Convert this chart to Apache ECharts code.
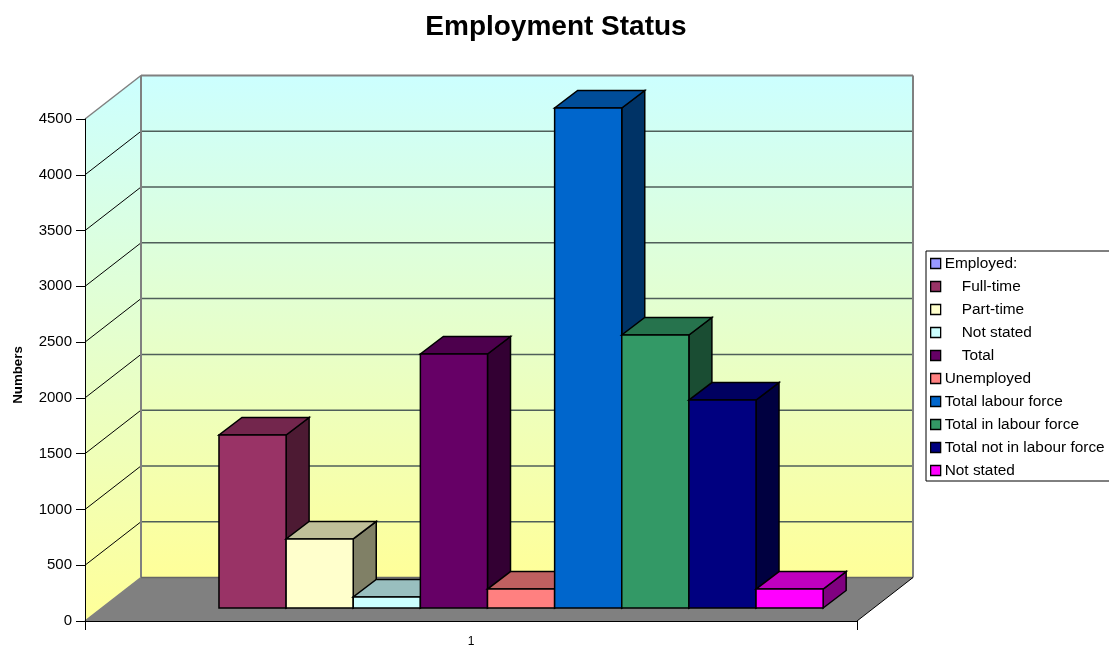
<!DOCTYPE html>
<html>
<head>
<meta charset="utf-8">
<style>html,body{margin:0;padding:0;background:#fff}#c{width:1109px;height:646px}</style>
<script src="https://cdn.jsdelivr.net/npm/echarts@6/dist/echarts.min.js"></script>
</head>
<body>
<div id="c"></div>
<script>
var categories = ['1'];
var seriesNames = ['Employed:', '    Full-time', '    Part-time', '    Not stated', '    Total', 'Unemployed', 'Total labour force', 'Total in labour force', 'Total not in labour force', 'Not stated'];
var seriesValues = [null, 1551, 619, 99, 2277, 170, 4482, 2447, 1864, 170];
var seriesColors = ['#9999ff', '#993366', '#ffffcc', '#ccffff', '#660066', '#ff8080', '#0066cc', '#339966', '#000080', '#ff00ff'];
var valueTicks = [0, 500, 1000, 1500, 2000, 2500, 3000, 3500, 4000, 4500];

var WALL_DX = 56, WALL_DY = 43.5;
var BAR_DX = 23, BAR_DY = 17.5;
var GAP_DX = (WALL_DX - BAR_DX) / 2, GAP_DY = (WALL_DY - BAR_DY) / 2;
var SLOTS = 11.5;

function shade(hex, k) {
  var n = parseInt(hex.slice(1), 16);
  var r = Math.round((n >> 16 & 255) * k), g = Math.round((n >> 8 & 255) * k), b = Math.round((n & 255) * k);
  return 'rgb(' + r + ',' + g + ',' + b + ')';
}
function poly(points, fill, stroke, lw) {
  return { type: 'polygon', shape: { points: points }, style: { fill: fill, stroke: stroke || null, lineWidth: lw || 0 } };
}
function seg(p, q, stroke, lw) {
  return { type: 'line', shape: { x1: p[0], y1: p[1], x2: q[0], y2: q[1] }, style: { stroke: stroke, lineWidth: lw } };
}
function wallGrad() {
  return new echarts.graphic.LinearGradient(0, 0, 0, 1, [{ offset: 0, color: '#ccffff' }, { offset: 1, color: '#ffff99' }]);
}
function renderWalls(params, api) {
  var band = api.size([1, 0])[0];
  var c0 = api.coord([0, 0]), cT = api.coord([0, 4500]);
  var xL = c0[0] - band / 2, xR = c0[0] + band / 2, y0 = c0[1], yT = cT[1];
  var ch = [];
  ch.push(poly([[xL, y0], [xL + WALL_DX, y0 - WALL_DY], [xL + WALL_DX, yT - WALL_DY], [xL, yT]], wallGrad()));
  ch.push(poly([[xL + WALL_DX, y0 - WALL_DY], [xR + WALL_DX, y0 - WALL_DY], [xR + WALL_DX, yT - WALL_DY], [xL + WALL_DX, yT - WALL_DY]], wallGrad()));
  ch.push(poly([[xL, y0], [xR, y0], [xR + WALL_DX, y0 - WALL_DY], [xL + WALL_DX, y0 - WALL_DY]], '#808080'));
  valueTicks.forEach(function (v) {
    if (v === 0 || v === 4500) return;
    var y = api.coord([0, v])[1];
    ch.push(seg([xL, y], [xL + WALL_DX, y - WALL_DY], '#000', 1));
    ch.push(seg([xL + WALL_DX, y - WALL_DY], [xR + WALL_DX, y - WALL_DY], '#4f5f5a', 1.5));
  });
  ch.push(seg([xL + WALL_DX, y0 - WALL_DY], [xL + WALL_DX, yT - WALL_DY], '#808080', 2));
  ch.push(seg([xL + WALL_DX, yT - WALL_DY], [xR + WALL_DX, yT - WALL_DY], '#808080', 2));
  ch.push(seg([xR + WALL_DX, yT - WALL_DY], [xR + WALL_DX, y0 - WALL_DY], '#808080', 2));
  ch.push(seg([xL + WALL_DX, y0 - WALL_DY], [xR + WALL_DX, y0 - WALL_DY], '#666', 1.5));
  ch.push(seg([xL, yT], [xL + WALL_DX, yT - WALL_DY], '#808080', 1.5));
  ch.push(seg([xL, y0], [xL + WALL_DX, y0 - WALL_DY], '#808080', 1.5));
  ch.push(seg([xR, y0], [xR + WALL_DX, y0 - WALL_DY], '#000', 1));
  return { type: 'group', children: ch };
}
function barRenderer(idx) {
  return function (params, api) {
    var v = api.value(1);
    if (v == null || isNaN(v)) return null;
    var band = api.size([1, 0])[0], w = band / SLOTS;
    var c0 = api.coord([0, 0]), cV = api.coord([0, v]);
    var x0 = c0[0] + (idx - 5) * w + GAP_DX, x1 = x0 + w;
    var yB = c0[1] - GAP_DY, yV = cV[1] - GAP_DY;
    var col = seriesColors[idx], lw = 1.5, k = '#000';
    return { type: 'group', children: [
      poly([[x1, yB], [x1 + BAR_DX, yB - BAR_DY], [x1 + BAR_DX, yV - BAR_DY], [x1, yV]], shade(col, 0.5), k, lw),
      poly([[x0, yV], [x1, yV], [x1 + BAR_DX, yV - BAR_DY], [x0 + BAR_DX, yV - BAR_DY]], shade(col, 0.75), k, lw),
      poly([[x0, yB], [x1, yB], [x1, yV], [x0, yV]], col, k, lw)
    ] };
  };
}
var series = [{
  type: 'custom', name: '__walls', silent: true, z: 1, clip: false,
  renderItem: renderWalls, data: [[0, 0]], encode: { x: 0, y: 1 }
}];
seriesNames.forEach(function (name, i) {
  series.push({
    type: 'custom', name: name, z: 2, clip: false, silent: true,
    itemStyle: { color: seriesColors[i] },
    renderItem: barRenderer(i),
    encode: { x: 0, y: 1 },
    data: [[0, seriesValues[i]]]
  });
});
var font = '"Liberation Sans", Arial, sans-serif';
var chart = echarts.init(document.getElementById('c'), null, { renderer: 'canvas' });
chart.setOption({
  animation: false,
  backgroundColor: '#fff',
  textStyle: { fontFamily: font },
  title: { text: 'Employment Status', left: 551, top: 8, textAlign: 'center',
    textStyle: { fontFamily: font, fontSize: 28, fontWeight: 'bold', color: '#000' } },
  grid: { left: 85, right: 252, top: 119, bottom: 25, containLabel: false, outerBoundsMode: 'none' },
  xAxis: { type: 'category', data: categories, z: 5,
    axisLine: { lineStyle: { color: '#000', width: 1 } },
    axisTick: { show: true, length: 9, lineStyle: { color: '#000' } },
    axisLabel: { fontFamily: font, fontSize: 12, color: '#000', margin: 15 },
    splitLine: { show: false } },
  yAxis: { type: 'value', min: 0, max: 4500, interval: 500, z: 5,
    name: 'Numbers', nameLocation: 'middle', nameGap: 60, nameRotate: 90,
    nameTextStyle: { fontFamily: font, fontSize: 13.3, fontWeight: 'bold', color: '#000', padding: [0, 10, 0, 0] },
    axisLine: { show: true, lineStyle: { color: '#000', width: 1 } },
    axisTick: { show: true, length: 9, lineStyle: { color: '#000' } },
    axisLabel: { fontFamily: font, fontSize: 15, color: '#000', margin: 13, padding: [2, 0, 0, 0], formatter: function (v) { return String(v); } },
    splitLine: { show: false } },
  legend: { orient: 'vertical', left: 926, top: 251, data: seriesNames, selectedMode: false,
    icon: 'rect', itemWidth: 10, itemHeight: 10, itemGap: 8, padding: [5, 12, 3, 4],
    borderColor: '#000', borderWidth: 1, borderRadius: 0, backgroundColor: '#fff',
    itemStyle: { borderColor: '#000', borderWidth: 1.3 },
    textStyle: { fontFamily: font, fontSize: 15.4, color: '#000', padding: [0, 0, 0, -1] } },
  series: series
});
</script>
</body>
</html>
